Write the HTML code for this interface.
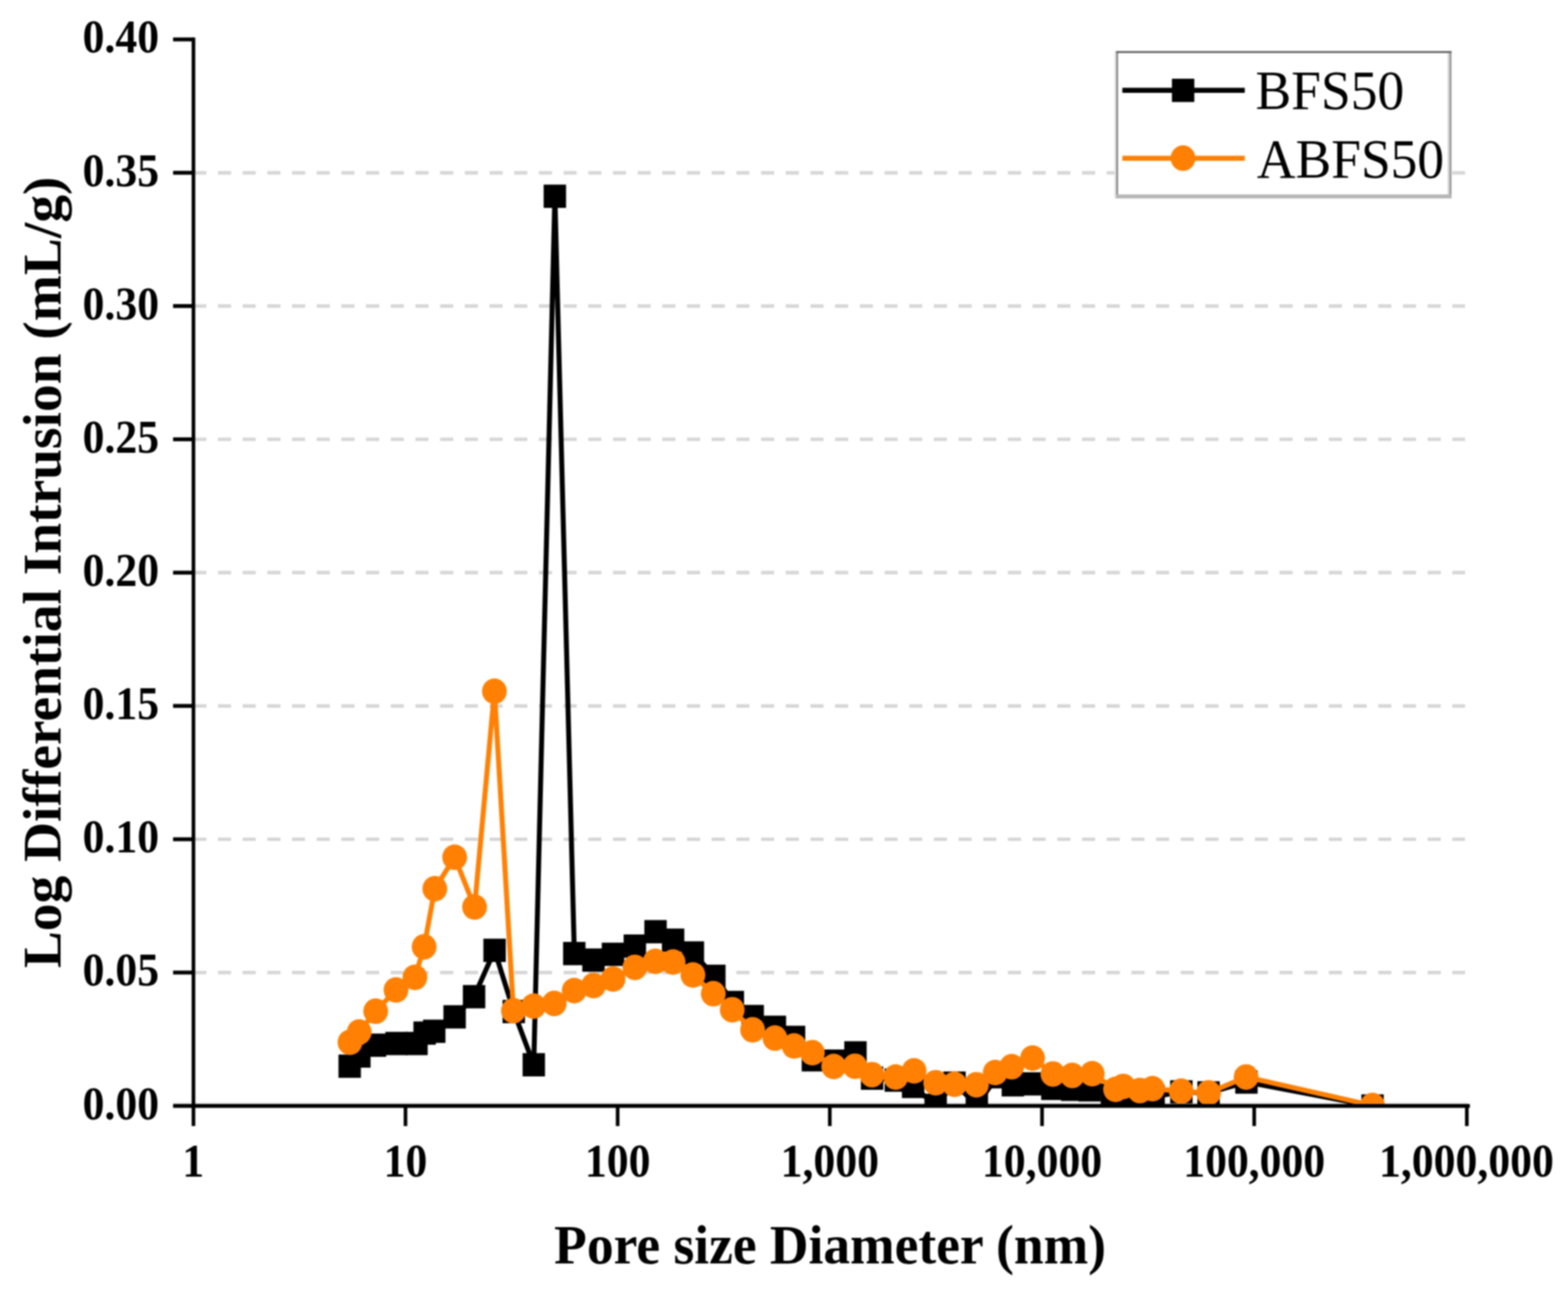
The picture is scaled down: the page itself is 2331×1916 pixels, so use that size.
<!DOCTYPE html>
<html lang="en"><head><meta charset="utf-8"><title>Pore size distribution</title>
<style>html,body{margin:0;padding:0;background:#fff}body{width:2331px;height:1916px;overflow:hidden}svg{display:block;filter:blur(1px)}text{font-family:"Liberation Serif","DejaVu Serif",serif;fill:#000}.b{font-weight:bold}</style></head><body>
<svg width="2331" height="1916" viewBox="0 0 2331 1916">
<rect width="2331" height="1916" fill="#fff"/>
<defs><clipPath id="plot"><rect x="287.3" y="0" width="2043.7" height="1640.9"/></clipPath></defs>
<g stroke="#d6d6d6" stroke-width="5.2" stroke-dasharray="19.5 17.2" fill="none"><line x1="287.3" y1="1445.6" x2="2178" y2="1445.6"/><line x1="287.3" y1="1247.5" x2="2178" y2="1247.5"/><line x1="287.3" y1="1049.3" x2="2178" y2="1049.3"/><line x1="287.3" y1="851.2" x2="2178" y2="851.2"/><line x1="287.3" y1="653" x2="2178" y2="653"/><line x1="287.3" y1="454.9" x2="2178" y2="454.9"/><line x1="287.3" y1="256.8" x2="2178" y2="256.8"/></g>
<line x1="257.5" y1="1639.7" x2="2182" y2="1639.7" stroke="#e6e6e6" stroke-width="2.6"/>
<g clip-path="url(#plot)">
<polyline fill="none" stroke="#000" stroke-width="7.4" stroke-linejoin="round" points="519.9,1584.8 534.3,1569.7 557.4,1553.6 589.5,1551.1 619.1,1551.1 631.2,1535.6 645.5,1532.9 675.9,1511.5 704.7,1481.5 735.3,1412.6 763.8,1503.6 793.5,1582.7 824.9,291.7 853.8,1417.4 882.2,1427.1 911.3,1418.5 943.8,1406.3 974.5,1384.9 1000.6,1397.5 1030.1,1416.5 1062,1451.2 1089.5,1490.1 1119,1511 1152,1527 1180.5,1542 1208.5,1575.3 1240.5,1577.3 1271.8,1565 1296.5,1602.6 1331.8,1605.5 1357.5,1614.9 1391,1643 1419,1610 1452.2,1643 1482,1600.5 1505.8,1612.5 1534.3,1611.1 1564.5,1617.8 1594,1619.2 1620,1620 1653,1628 1671,1630 1697,1630 1715,1630 1756.3,1623 1796.7,1624.5 1853,1608.4 2040.4,1644"/>
<g fill="#000"><rect x="503.2" y="1567.5" width="33.3" height="34.6"/><rect x="517.6" y="1552.4" width="33.3" height="34.6"/><rect x="540.8" y="1536.3" width="33.3" height="34.6"/><rect x="572.9" y="1533.8" width="33.3" height="34.6"/><rect x="602.5" y="1533.8" width="33.3" height="34.6"/><rect x="614.6" y="1518.3" width="33.3" height="34.6"/><rect x="628.9" y="1515.6" width="33.3" height="34.6"/><rect x="659.2" y="1494.2" width="33.3" height="34.6"/><rect x="688.1" y="1464.2" width="33.3" height="34.6"/><rect x="718.6" y="1395.3" width="33.3" height="34.6"/><rect x="747.1" y="1486.3" width="33.3" height="34.6"/><rect x="776.9" y="1565.4" width="33.3" height="34.6"/><rect x="808.2" y="274.4" width="33.3" height="34.6"/><rect x="837.1" y="1400.1" width="33.3" height="34.6"/><rect x="865.6" y="1409.8" width="33.3" height="34.6"/><rect x="894.6" y="1401.2" width="33.3" height="34.6"/><rect x="927.1" y="1389" width="33.3" height="34.6"/><rect x="957.9" y="1367.6" width="33.3" height="34.6"/><rect x="984" y="1380.2" width="33.3" height="34.6"/><rect x="1013.4" y="1399.2" width="33.3" height="34.6"/><rect x="1045.3" y="1433.9" width="33.3" height="34.6"/><rect x="1072.8" y="1472.8" width="33.3" height="34.6"/><rect x="1102.3" y="1493.7" width="33.3" height="34.6"/><rect x="1135.3" y="1509.7" width="33.3" height="34.6"/><rect x="1163.8" y="1524.7" width="33.3" height="34.6"/><rect x="1191.8" y="1558" width="33.3" height="34.6"/><rect x="1223.8" y="1560" width="33.3" height="34.6"/><rect x="1255.1" y="1547.7" width="33.3" height="34.6"/><rect x="1279.8" y="1585.3" width="33.3" height="34.6"/><rect x="1315.1" y="1588.2" width="33.3" height="34.6"/><rect x="1340.8" y="1597.6" width="33.3" height="34.6"/><rect x="1374.3" y="1625.7" width="33.3" height="34.6"/><rect x="1402.3" y="1592.7" width="33.3" height="34.6"/><rect x="1435.5" y="1625.7" width="33.3" height="34.6"/><rect x="1465.3" y="1583.2" width="33.3" height="34.6"/><rect x="1489.1" y="1595.2" width="33.3" height="34.6"/><rect x="1517.6" y="1593.8" width="33.3" height="34.6"/><rect x="1547.8" y="1600.5" width="33.3" height="34.6"/><rect x="1577.3" y="1601.9" width="33.3" height="34.6"/><rect x="1603.3" y="1602.7" width="33.3" height="34.6"/><rect x="1636.3" y="1610.7" width="33.3" height="34.6"/><rect x="1654.3" y="1612.7" width="33.3" height="34.6"/><rect x="1680.3" y="1612.7" width="33.3" height="34.6"/><rect x="1698.3" y="1612.7" width="33.3" height="34.6"/><rect x="1739.6" y="1605.7" width="33.3" height="34.6"/><rect x="1780" y="1607.2" width="33.3" height="34.6"/><rect x="1836.3" y="1591.1" width="33.3" height="34.6"/><rect x="2023.8" y="1626.7" width="33.3" height="34.6"/></g>
<polyline fill="none" stroke="#ff8003" stroke-width="7.4" stroke-linejoin="round" points="520.3,1549.2 534,1534 558.5,1503.1 588.7,1471.5 616.8,1452.7 630.5,1407.4 646.4,1321 675.9,1274.2 705.5,1348.3 735,1027.5 763.3,1502.4 793.3,1495.5 823.9,1491.6 853.6,1472.5 882.3,1465 911.3,1455.2 943.8,1437.9 974.2,1429 1000.6,1430 1030.1,1449.2 1060.4,1477.1 1088.5,1500.9 1118.8,1530.8 1152,1543.1 1180.5,1554.7 1207.7,1564.7 1239.4,1585.2 1271,1584.9 1296.3,1597.4 1331.6,1601 1358.9,1591.7 1391,1609.4 1419,1611.8 1451.5,1612.4 1479.5,1594.3 1504,1585.6 1535,1572.7 1565.2,1596.4 1594,1598.6 1623.7,1596 1658.4,1619.2 1669.8,1614.9 1694.4,1621.1 1713.3,1618.2 1756,1622 1796.7,1624.4 1852.5,1600.9 2040.4,1643.2"/>
<g fill="#ff8003"><ellipse cx="520.3" cy="1549.2" rx="18.4" ry="19.0"/><ellipse cx="534" cy="1534" rx="18.4" ry="19.0"/><ellipse cx="558.5" cy="1503.1" rx="18.4" ry="19.0"/><ellipse cx="588.7" cy="1471.5" rx="18.4" ry="19.0"/><ellipse cx="616.8" cy="1452.7" rx="18.4" ry="19.0"/><ellipse cx="630.5" cy="1407.4" rx="18.4" ry="19.0"/><ellipse cx="646.4" cy="1321" rx="18.4" ry="19.0"/><ellipse cx="675.9" cy="1274.2" rx="18.4" ry="19.0"/><ellipse cx="705.5" cy="1348.3" rx="18.4" ry="19.0"/><ellipse cx="735" cy="1027.5" rx="18.4" ry="19.0"/><ellipse cx="763.3" cy="1502.4" rx="18.4" ry="19.0"/><ellipse cx="793.3" cy="1495.5" rx="18.4" ry="19.0"/><ellipse cx="823.9" cy="1491.6" rx="18.4" ry="19.0"/><ellipse cx="853.6" cy="1472.5" rx="18.4" ry="19.0"/><ellipse cx="882.3" cy="1465" rx="18.4" ry="19.0"/><ellipse cx="911.3" cy="1455.2" rx="18.4" ry="19.0"/><ellipse cx="943.8" cy="1437.9" rx="18.4" ry="19.0"/><ellipse cx="974.2" cy="1429" rx="18.4" ry="19.0"/><ellipse cx="1000.6" cy="1430" rx="18.4" ry="19.0"/><ellipse cx="1030.1" cy="1449.2" rx="18.4" ry="19.0"/><ellipse cx="1060.4" cy="1477.1" rx="18.4" ry="19.0"/><ellipse cx="1088.5" cy="1500.9" rx="18.4" ry="19.0"/><ellipse cx="1118.8" cy="1530.8" rx="18.4" ry="19.0"/><ellipse cx="1152" cy="1543.1" rx="18.4" ry="19.0"/><ellipse cx="1180.5" cy="1554.7" rx="18.4" ry="19.0"/><ellipse cx="1207.7" cy="1564.7" rx="18.4" ry="19.0"/><ellipse cx="1239.4" cy="1585.2" rx="18.4" ry="19.0"/><ellipse cx="1271" cy="1584.9" rx="18.4" ry="19.0"/><ellipse cx="1296.3" cy="1597.4" rx="18.4" ry="19.0"/><ellipse cx="1331.6" cy="1601" rx="18.4" ry="19.0"/><ellipse cx="1358.9" cy="1591.7" rx="18.4" ry="19.0"/><ellipse cx="1391" cy="1609.4" rx="18.4" ry="19.0"/><ellipse cx="1419" cy="1611.8" rx="18.4" ry="19.0"/><ellipse cx="1451.5" cy="1612.4" rx="18.4" ry="19.0"/><ellipse cx="1479.5" cy="1594.3" rx="18.4" ry="19.0"/><ellipse cx="1504" cy="1585.6" rx="18.4" ry="19.0"/><ellipse cx="1535" cy="1572.7" rx="18.4" ry="19.0"/><ellipse cx="1565.2" cy="1596.4" rx="18.4" ry="19.0"/><ellipse cx="1594" cy="1598.6" rx="18.4" ry="19.0"/><ellipse cx="1623.7" cy="1596" rx="18.4" ry="19.0"/><ellipse cx="1658.4" cy="1619.2" rx="18.4" ry="19.0"/><ellipse cx="1669.8" cy="1614.9" rx="18.4" ry="19.0"/><ellipse cx="1694.4" cy="1621.1" rx="18.4" ry="19.0"/><ellipse cx="1713.3" cy="1618.2" rx="18.4" ry="19.0"/><ellipse cx="1756" cy="1622" rx="18.4" ry="19.0"/><ellipse cx="1796.7" cy="1624.4" rx="18.4" ry="19.0"/><ellipse cx="1852.5" cy="1600.9" rx="18.4" ry="19.0"/><ellipse cx="2040.4" cy="1643.2" rx="18.4" ry="19.0"/></g>
</g>
<g stroke="#000" stroke-width="5.8" fill="none"><line x1="257.3" y1="1643.8" x2="2185.1" y2="1643.8"/><line x1="257.3" y1="1445.6" x2="287.6" y2="1445.6"/><line x1="257.3" y1="1247.5" x2="287.6" y2="1247.5"/><line x1="257.3" y1="1049.3" x2="287.6" y2="1049.3"/><line x1="257.3" y1="851.2" x2="287.6" y2="851.2"/><line x1="257.3" y1="653" x2="287.6" y2="653"/><line x1="257.3" y1="454.9" x2="287.6" y2="454.9"/><line x1="257.3" y1="256.8" x2="287.6" y2="256.8"/><line x1="257.3" y1="58.6" x2="287.6" y2="58.6"/></g>
<g stroke="#000" stroke-width="5.4" fill="none"><line x1="287.6" y1="55.7" x2="287.6" y2="1673.8"/><line x1="602.8" y1="1643.8" x2="602.8" y2="1673.8"/><line x1="918.2" y1="1643.8" x2="918.2" y2="1673.8"/><line x1="1233.6" y1="1643.8" x2="1233.6" y2="1673.8"/><line x1="1549.1" y1="1643.8" x2="1549.1" y2="1673.8"/><line x1="1864.5" y1="1643.8" x2="1864.5" y2="1673.8"/><line x1="2180.6" y1="1643.8" x2="2180.6" y2="1673.8"/></g>
<g class="b" font-size="65"><text transform="translate(236.6 1663.6) scale(1 1.06)" text-anchor="end">0.00</text><text transform="translate(236.6 1465.4) scale(1 1.06)" text-anchor="end">0.05</text><text transform="translate(236.6 1267.3) scale(1 1.06)" text-anchor="end">0.10</text><text transform="translate(236.6 1069.1) scale(1 1.06)" text-anchor="end">0.15</text><text transform="translate(236.6 871) scale(1 1.06)" text-anchor="end">0.20</text><text transform="translate(236.6 672.8) scale(1 1.06)" text-anchor="end">0.25</text><text transform="translate(236.6 474.7) scale(1 1.06)" text-anchor="end">0.30</text><text transform="translate(236.6 276.6) scale(1 1.06)" text-anchor="end">0.35</text><text transform="translate(236.6 78.4) scale(1 1.06)" text-anchor="end">0.40</text><text transform="translate(287.3 1748.6) scale(1 1.06)" text-anchor="middle">1</text><text transform="translate(602.8 1748.6) scale(1 1.06)" text-anchor="middle">10</text><text transform="translate(918.2 1748.6) scale(1 1.06)" text-anchor="middle">100</text><text transform="translate(1233.6 1748.6) scale(1 1.06)" text-anchor="middle">1,000</text><text transform="translate(1549.1 1748.6) scale(1 1.06)" text-anchor="middle">10,000</text><text transform="translate(1864.5 1748.6) scale(1 1.06)" text-anchor="middle">100,000</text><text transform="translate(2180 1748.6) scale(1 1.06)" text-anchor="middle">1,000,000</text></g>
<text transform="translate(1234 1878.2) scale(1 1.036)" text-anchor="middle" font-size="79.5" class="b">Pore size Diameter (nm)</text>
<text class="b" font-size="79.5" text-anchor="middle" transform="translate(90.3 850.8) rotate(-90) scale(1.036 1)">Log Differential Intrusion (mL/g)</text>
<rect x="1659.3" y="75.9" width="498.5" height="219" fill="#fff"/>
<rect x="1656.6" y="76.5" width="2.7" height="218" fill="#e6e6e6"/>
<rect x="1659.3" y="75.9" width="2.9" height="219" fill="#888"/>
<rect x="2152.1" y="75.9" width="2.9" height="219" fill="#d2d2d2"/>
<rect x="2155" y="75.9" width="2.8" height="219" fill="#999"/>
<rect x="1659.3" y="289" width="498.5" height="5.9" fill="#b6b6b6"/>
<rect x="1659.3" y="75.9" width="498.5" height="2.9" fill="#626262"/>
<line x1="1668.5" y1="134.2" x2="1850.5" y2="134.2" stroke="#000" stroke-width="7.4"/>
<rect x="1742.2" y="117" width="33.3" height="34.6" fill="#000"/>
<line x1="1668.5" y1="235.2" x2="1850.5" y2="235.2" stroke="#ff8003" stroke-width="7.4"/>
<ellipse cx="1758.7" cy="235.1" rx="18.4" ry="19.0" fill="#ff8003"/>
<text transform="translate(1866.5 162.3) scale(1 1.036)" font-size="79.5">BFS50</text>
<text transform="translate(1868.5 263.8) scale(1 1.036)" font-size="79.5">ABFS50</text>
</svg></body></html>
